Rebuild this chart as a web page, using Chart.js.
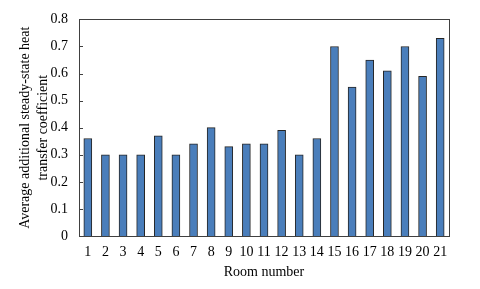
<!DOCTYPE html>
<html>
<head>
<meta charset="utf-8">
<script src="https://cdn.jsdelivr.net/npm/chart.js@4/dist/chart.umd.min.js"></script>
<style>
html,body{margin:0;padding:0;background:#fff;}
#wrap{width:480px;height:289px;}
</style>
</head>
<body>
<div id="wrap"><canvas id="c" width="480" height="289"></canvas></div>
<script>
const rooms = ['1','2','3','4','5','6','7','8','9','10','11','12','13','14','15','16','17','18','19','20','21'];
const heatCoeff = [0.36,0.30,0.30,0.30,0.37,0.30,0.34,0.40,0.33,0.34,0.34,0.39,0.30,0.36,0.70,0.55,0.65,0.61,0.70,0.59,0.73];
const yTitle = ['Average additional steady-state heat','transfer coefficient'];
const xTitle = 'Room number';

const frame = {
  id:'frame',
  afterDraw(chart){
    const {ctx, chartArea:a} = chart;
    const ys = chart.scales.y;
    ctx.save();
    ctx.strokeStyle = '#404040';
    ctx.lineWidth = 1;
    ctx.strokeRect(Math.round(a.left)+0.5, Math.round(a.top)+0.5, Math.round(a.right-a.left), Math.round(a.bottom-a.top));
    ys.ticks.forEach((t,i)=>{
      const y = Math.round(ys.getPixelForTick(i))+0.5;
      ctx.beginPath();
      ctx.moveTo(a.left, y);
      ctx.lineTo(a.left+4, y);
      ctx.stroke();
    });
    ctx.restore();
  }
};

new Chart(document.getElementById('c'), {
  type:'bar',
  data:{labels:rooms, datasets:[{data:heatCoeff, backgroundColor:'#4a7ebb', borderColor:'#262626', borderWidth:1, barThickness:8}]},
  options:{
    responsive:false, animation:false,
    layout:{padding:{left:0,right:31,top:18,bottom:0}},
    plugins:{legend:{display:false}, tooltip:{enabled:false}},
    scales:{
      x:{
        grid:{display:false, drawTicks:false},
        border:{display:false},
        ticks:{color:'#000', font:{family:'Liberation Serif', size:14}, padding:8, maxRotation:0, autoSkip:false},
        title:{display:true, text:xTitle, color:'#000', font:{family:'Liberation Serif', size:14}, padding:{top:4,bottom:8}},
        afterFit(s){ s.height = 53; }
      },
      y:{
        min:0, max:0.8,
        grid:{display:false, drawTicks:false},
        border:{display:false},
        ticks:{stepSize:0.1, color:'#000', font:{family:'Liberation Serif', size:14}, padding:11, callback:(v)=> v===0 ? '0' : v.toFixed(1)},
        title:{display:true, text:yTitle, color:'#000', font:{family:'Liberation Serif', size:14, lineHeight:1.3}, padding:{top:16,bottom:0}},
        afterFit(s){ s.width = 79; }
      }
    }
  },
  plugins:[frame]
});
</script>
</body>
</html>
